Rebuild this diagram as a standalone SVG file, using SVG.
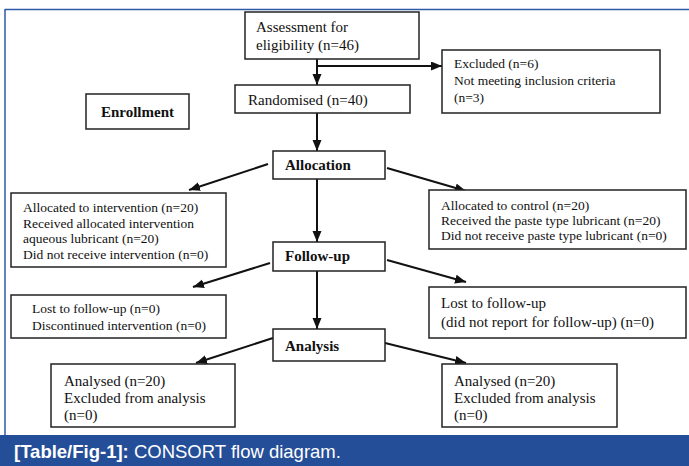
<svg xmlns="http://www.w3.org/2000/svg" width="689" height="466" viewBox="0 0 689 466">
<style>
.box{fill:#fff;stroke:#222;stroke-width:1.5}
.t{font-family:"Liberation Serif","Times New Roman",serif;fill:#111}
.s{font-size:13.5px}
.m{font-size:15px}
.b{font-size:15px;font-weight:bold}
.c{stroke:#111;stroke-width:2;fill:none;marker-end:url(#ah)}
.cap{font-family:"Liberation Sans",Arial,sans-serif;font-size:18.5px;fill:#fff}
</style>
<defs>
<marker id="ah" markerUnits="userSpaceOnUse" markerWidth="12" markerHeight="10" refX="11" refY="4.5" orient="auto">
<path d="M0,0 L11,4.5 L0,9 z" fill="#111"/>
</marker>
</defs>
<rect width="689" height="466" fill="#fff"/>
<g id="frame">
<line x1="5" y1="9.5" x2="689" y2="9.5" stroke="#2f58a6" stroke-width="1.5"/>
<line x1="5" y1="9" x2="5" y2="435" stroke="#2f58a6" stroke-width="1.5"/>
</g>
<g id="connectors">
<path class="c" d="M317,59 L317,85"/>
<path class="c" d="M317,66 L442,66"/>
<path class="c" d="M317,113 L317,151"/>
<path class="c" d="M268,164 L189,190"/>
<path class="c" d="M387,168 L466,191"/>
<path class="c" d="M317,179 L317,242"/>
<path class="c" d="M270,263 L193,287"/>
<path class="c" d="M387,260 L466,282"/>
<path class="c" d="M317,271 L317,329"/>
<path class="c" d="M273,338 L196,363"/>
<path class="c" d="M385,343 L466,363"/>
</g>
<g id="assessment">
<rect class="box" x="245" y="12" width="174" height="47"/>
<text class="t m" x="256" y="32">Assessment for</text>
<text class="t m" x="256" y="50">eligibility (n=46)</text>
</g>
<g id="excluded">
<rect class="box" x="442" y="50" width="218" height="63"/>
<text class="t s" x="454" y="68">Excluded (n=6)</text>
<text class="t s" x="454" y="85">Not meeting inclusion criteria</text>
<text class="t s" x="454" y="102">(n=3)</text>
</g>
<g id="enrollment">
<rect class="box" x="86" y="94" width="103" height="35"/>
<text class="t b" x="137.5" y="117" text-anchor="middle">Enrollment</text>
</g>
<g id="randomised">
<rect class="box" x="235" y="85" width="175" height="28"/>
<text class="t m" x="248" y="105">Randomised (n=40)</text>
</g>
<g id="allocation">
<rect class="box" x="273" y="151" width="112" height="28"/>
<text class="t b" x="285" y="170">Allocation</text>
</g>
<g id="alloc-intervention">
<rect class="box" x="11" y="193" width="215" height="74"/>
<text class="t s" x="23" y="212">Allocated to intervention (n=20)</text>
<text class="t s" x="23" y="228">Received allocated intervention</text>
<text class="t s" x="23" y="243">aqueous lubricant (n=20)</text>
<text class="t s" x="23" y="259">Did not receive intervention (n=0)</text>
</g>
<g id="alloc-control">
<rect class="box" x="429" y="190" width="257" height="59"/>
<text class="t s" x="441" y="210">Allocated to control (n=20)</text>
<text class="t s" x="441" y="225">Received the paste type lubricant (n=20)</text>
<text class="t s" x="441" y="240">Did not receive paste type lubricant (n=0)</text>
</g>
<g id="followup">
<rect class="box" x="273" y="242" width="112" height="29"/>
<text class="t b" x="285" y="261">Follow-up</text>
</g>
<g id="lost-left">
<rect class="box" x="11" y="295" width="215" height="43"/>
<text class="t s" x="32" y="313">Lost to follow-up (n=0)</text>
<text class="t s" x="32" y="330">Discontinued intervention (n=0)</text>
</g>
<g id="lost-right">
<rect class="box" x="429" y="287" width="257" height="51"/>
<text class="t m" x="441" y="308">Lost to follow-up</text>
<text class="t m" x="441" y="327">(did not report for follow-up) (n=0)</text>
</g>
<g id="analysis">
<rect class="box" x="273" y="329" width="112" height="32"/>
<text class="t b" x="285" y="351">Analysis</text>
</g>
<g id="analysed-left">
<rect class="box" x="51" y="364" width="184" height="63"/>
<text class="t m" x="64" y="386">Analysed (n=20)</text>
<text class="t m" x="64" y="403">Excluded from analysis</text>
<text class="t m" x="64" y="420">(n=0)</text>
</g>
<g id="analysed-right">
<rect class="box" x="442" y="364" width="175" height="63"/>
<text class="t m" x="454" y="386">Analysed (n=20)</text>
<text class="t m" x="454" y="403">Excluded from analysis</text>
<text class="t m" x="454" y="420">(n=0)</text>
</g>
<g id="caption">
<rect x="0" y="435" width="689" height="31" fill="#254e99"/>
<text class="cap" x="14" y="458"><tspan font-weight="bold">[Table/Fig-1]:</tspan> CONSORT flow diagram.</text>
</g>
</svg>
